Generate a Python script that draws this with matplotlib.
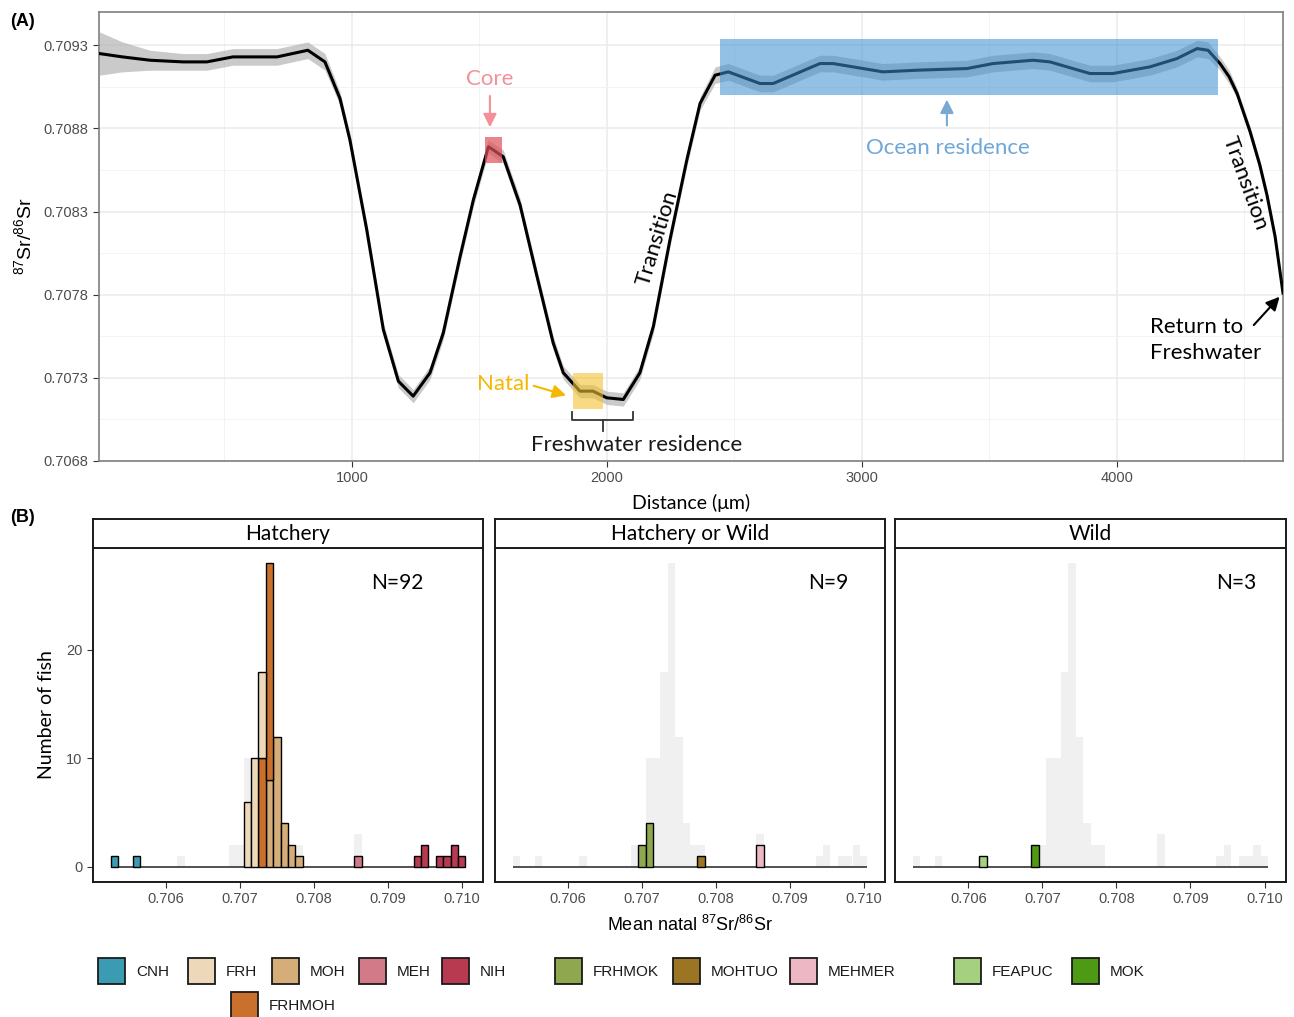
import numpy as np
import matplotlib.pyplot as plt
from matplotlib.patches import Rectangle

plt.rcParams['font.family'] = ['Liberation Sans', 'DejaVu Sans']
plt.rcParams['mathtext.fontset'] = 'custom'
plt.rcParams['mathtext.rm'] = 'Liberation Sans'
plt.rcParams['mathtext.it'] = 'Liberation Sans:italic'

# ---- panel A: otolith transect ----
dist = [10, 100, 208, 337, 431, 533, 706, 827, 894, 953, 992, 1058, 1123, 1182,
        1240, 1306, 1358, 1424, 1476, 1535, 1593, 1659, 1724, 1789, 1829, 1894,
        1945, 1999, 2064, 2129, 2182, 2247, 2313, 2365, 2424, 2476, 2600, 2652,
        2835, 2887, 3082, 3216, 3412, 3514, 3671, 3737, 3894, 3984, 4129, 4235,
        4314, 4357, 4404, 4440, 4471, 4522, 4560, 4588, 4620, 4651]
sr = [0.70925, 0.70923, 0.70921, 0.70920, 0.70920, 0.70923, 0.70923, 0.70927,
      0.70920, 0.70898, 0.70873, 0.70819, 0.70759, 0.70728, 0.70719, 0.70733,
      0.70757, 0.70803, 0.70837, 0.70869, 0.70863, 0.70834, 0.70792, 0.70751,
      0.70733, 0.70722, 0.70722, 0.70718, 0.70717, 0.70733, 0.70761, 0.70813,
      0.70861, 0.70895, 0.70912, 0.70914, 0.70907, 0.70907, 0.70919, 0.70919,
      0.70914, 0.70915, 0.70916, 0.70919, 0.70921, 0.70920, 0.70913, 0.70913,
      0.70917, 0.70922, 0.70928, 0.70927, 0.70919, 0.70911, 0.70901, 0.70878,
      0.70858, 0.70840, 0.70815, 0.70781]
se = [0.00013, 0.00009, 0.00006, 0.00005, 0.00005, 0.00005, 0.00005, 0.00005,
      0.00005, 0.00004, 0.00004, 0.00004, 0.00004, 0.00004, 0.00004, 0.00004,
      0.00004, 0.00004, 0.00004, 0.00004, 0.00004, 0.00004, 0.00004, 0.00004,
      0.00004, 0.00004, 0.00004, 0.00004, 0.00004, 0.00004, 0.00004, 0.00004,
      0.00004, 0.00004, 0.00005, 0.00005, 0.00005, 0.00005, 0.00005, 0.00005,
      0.00005, 0.00005, 0.00005, 0.00005, 0.00005, 0.00005, 0.00005, 0.00005,
      0.00005, 0.00005, 0.00005, 0.00005, 0.00004, 0.00004, 0.00003, 0.00003,
      0.00003, 0.00003, 0.00002, 0.00002]

core_zone = (1522, 1588, 0.70859, 0.70875)
natal_zone = (1867, 1984, 0.70711, 0.70733)
ocean_zone = (2443, 4396, 0.70900, 0.70934)
fw_zone = (1863, 2102)

# ---- panel B: natal histograms (bin centre, count) ----
cnh_x, cnh_n = [0.7053, 0.7056], [1, 1]
frh_x, frh_n = [0.7071, 0.7072, 0.7073], [6, 10, 8]
moh_x, moh_n = [0.7074, 0.7075, 0.7076, 0.7077, 0.7078], [8, 12, 4, 2, 1]
meh_x, meh_n = [0.7086], [1]
nih_x, nih_n = [0.7094, 0.7095, 0.7097, 0.7098, 0.7099, 0.7100], [1, 2, 1, 1, 2, 1]
frhmoh_x, frhmoh_n = [0.7073, 0.7074], [10, 20]
frhmok_x, frhmok_n = [0.7070, 0.7071], [2, 4]
mohtuo_x, mohtuo_n = [0.7078], [1]
mehmer_x, mehmer_n = [0.7086], [2]
feapuc_x, feapuc_n = [0.7062], [1]
mok_x, mok_n = [0.7069], [2]

bin_w = 0.0001
bin_lo, bin_hi = 0.7053, 0.7100

colors = {'CNH': '#3A9BB3', 'FRH': '#EDD9BA', 'MOH': '#D4AD78', 'MEH': '#D27A88',
          'NIH': '#B73A51', 'FRHMOH': '#C9712C', 'FRHMOK': '#8FA84F',
          'MOHTUO': '#9B7424', 'MEHMER': '#EDB8C4', 'FEAPUC': '#A5D080',
          'MOK': '#4F9A15'}

panels = [
    ('Hatchery', 'N=92', [('CNH', cnh_x, cnh_n), ('MOH', moh_x, moh_n),
                          ('FRHMOH', frhmoh_x, frhmoh_n), ('FRH', frh_x, frh_n),
                          ('MEH', meh_x, meh_n), ('NIH', nih_x, nih_n)]),
    ('Hatchery or Wild', 'N=9', [('FRHMOK', frhmok_x, frhmok_n),
                                 ('MOHTUO', mohtuo_x, mohtuo_n),
                                 ('MEHMER', mehmer_x, mehmer_n)]),
    ('Wild', 'N=3', [('FEAPUC', feapuc_x, feapuc_n), ('MOK', mok_x, mok_n)]),
]
n_pos = [0.78, 0.855, 0.872]

W, H = 1294, 1017


def fr(l, t, r, b):
    return [l / W, 1 - b / H, (r - l) / W, (b - t) / H]


ann_font = ['Lato', 'DejaVu Sans']
fig = plt.figure(figsize=(W / 100, H / 100), dpi=100)

# ================= panel A =================
ax = fig.add_axes(fr(99, 12, 1283, 461))
d = np.array(dist)
s = np.array(sr)
e = np.array(se)
ax.fill_between(d, s - e, s + e, color='#B4B4B4', alpha=0.7, lw=0, zorder=2)
ax.plot(d, s, color='black', lw=2.2, zorder=3)
ax.set_xlim(8, 4651)
ax.set_ylim(0.7068, 0.70950)
ax.set_xticks([1000, 2000, 3000, 4000])
ax.set_xticks([500, 1500, 2500, 3500, 4500], minor=True)
yt = np.arange(0.7068, 0.70935, 0.0005)
ax.set_yticks(yt)
ax.set_yticklabels(['%.4f' % v for v in yt])
ax.set_yticks(yt[:-1] + 0.00025, minor=True)
ax.grid(True, which='major', color='#EBEBEB', lw=1.1, zorder=0)
ax.grid(True, which='minor', color='#F3F3F3', lw=0.7, zorder=0)
ax.set_axisbelow(True)
ax.tick_params(which='major', length=4, color='#333333', labelcolor='#4D4D4D', labelsize=10.5)
ax.tick_params(which='minor', length=0)
for sp in ax.spines.values():
    sp.set_color('#7F7F7F')
    sp.set_linewidth(1.2)
ax.set_ylabel(r'$^{87}$Sr/$^{86}$Sr', fontsize=14, labelpad=6)
ax.set_xlabel('Distance (μm)', fontsize=14, family=ann_font, labelpad=6)

x0, x1, y0, y1 = core_zone
ax.add_patch(Rectangle((x0, y0), x1 - x0, y1 - y0, color='#E0505A', alpha=0.7, lw=0, zorder=4))
x0, x1, y0, y1 = natal_zone
ax.add_patch(Rectangle((x0, y0), x1 - x0, y1 - y0, color='#F2C230', alpha=0.6, lw=0, zorder=4))
x0, x1, y0, y1 = ocean_zone
ax.add_patch(Rectangle((x0, y0), x1 - x0, y1 - y0, color='#3B8FD0', alpha=0.55, lw=0, zorder=4))

ax.text(1541, 0.709096, 'Core', color='#F4909A', fontsize=16, family=ann_font,
        ha='center', va='center', zorder=5)
ax.annotate('', xy=(1541, 0.708790), xytext=(1541, 0.709012),
            arrowprops=dict(arrowstyle='-|>', color='#F4909A', lw=1.5, mutation_scale=20), zorder=5)
ax.text(1592, 0.707263, 'Natal', color='#F5B800', fontsize=16, family=ann_font,
        ha='center', va='center', zorder=5)
ax.annotate('', xy=(1850, 0.707190), xytext=(1702, 0.707257),
            arrowprops=dict(arrowstyle='-|>', color='#F5B800', lw=1.5, mutation_scale=20), zorder=5)
fa, fb = fw_zone
fm = (fa + fb) / 2
ax.plot([fa, fa, fb, fb], [0.707094, 0.707046, 0.707046, 0.707094], color='#333333', lw=1.3, zorder=5)
ax.plot([fm, fm], [0.707046, 0.706980], color='#333333', lw=1.3, zorder=5)
ax.text(2118, 0.706896, 'Freshwater residence', color='#1A1A1A', fontsize=16,
        family=ann_font, ha='center', va='center', zorder=5)
ax.annotate('', xy=(3333, 0.708990), xytext=(3333, 0.708801),
            arrowprops=dict(arrowstyle='-|>', color='#7BA8D2', lw=1.5, mutation_scale=20), zorder=5)
ax.text(3337, 0.708681, 'Ocean residence', color='#6FA7D7', fontsize=16,
        family=ann_font, ha='center', va='center', zorder=5)
ax.text(2196, 0.708140, 'Transition', color='black', fontsize=16, family=ann_font,
        rotation=73, ha='center', va='center', zorder=5)
ax.text(4502, 0.708471, 'Transition', color='black', fontsize=16, family=ann_font,
        rotation=-70, ha='center', va='center', zorder=5)
ax.text(4129, 0.707527, 'Return to\nFreshwater', color='black', fontsize=16,
        family=ann_font, ha='left', va='center', linespacing=1.4, zorder=5)
ax.annotate('', xy=(4645, 0.707800), xytext=(4529, 0.707605),
            arrowprops=dict(arrowstyle='-|>', color='black', lw=1.5, mutation_scale=20),
            annotation_clip=False, zorder=5)

# ================= panel B =================
centres = np.round(np.arange(bin_lo, bin_hi + bin_w / 2, bin_w), 4)
total = {c: 0 for c in centres}
for _, _, groups in panels:
    for _, xs, ns in groups:
        for xv, nv in zip(xs, ns):
            total[round(xv, 4)] += nv

lefts = [(93, 483), (495, 885), (895, 1286)]
for i, ((title, nlab, groups), (pl, pr)) in enumerate(zip(panels, lefts)):
    bx = fig.add_axes(fr(pl, 548, pr, 882))
    bx.bar(list(total.keys()), list(total.values()), width=bin_w, color='#F0F0F0', lw=0, zorder=1)
    bx.hlines(0, bin_lo - bin_w / 2, bin_hi + bin_w / 2, color='#333333', lw=1.2, zorder=2)
    stack = {}
    for name, xs, ns in groups:
        bots = [stack.get(round(xv, 4), 0) for xv in xs]
        bx.bar(xs, ns, width=bin_w, bottom=bots, color=colors[name],
               edgecolor='black', lw=1.0, zorder=3)
        for xv, nv, bv in zip(xs, ns, bots):
            stack[round(xv, 4)] = bv + nv
    bx.set_xlim(0.70501, 0.71029)
    bx.set_ylim(-1.4, 29.4)
    bx.set_xticks([0.706, 0.707, 0.708, 0.709, 0.710])
    bx.set_xticklabels(['0.706', '0.707', '0.708', '0.709', '0.710'])
    bx.tick_params(axis='x', length=4, color='#333333', labelcolor='#4D4D4D', labelsize=10.5)
    if i == 0:
        bx.set_yticks([0, 10, 20])
        bx.tick_params(axis='y', length=4, color='#333333', labelcolor='#4D4D4D', labelsize=10.5)
        bx.set_ylabel('Number of fish', fontsize=14, family=ann_font, labelpad=8)
    else:
        bx.set_yticks([])
    if i == 1:
        bx.set_xlabel(r'Mean natal $^{87}$Sr/$^{86}$Sr', fontsize=13, labelpad=6)
    for sp in bx.spines.values():
        sp.set_color('#1A1A1A')
        sp.set_linewidth(1.4)
    bx.text(n_pos[i], 0.895, nlab, transform=bx.transAxes, fontsize=15,
            family=ann_font, ha='center', va='center')
    st = fig.add_axes(fr(pl, 519, pr, 548))
    st.set_xticks([])
    st.set_yticks([])
    for sp in st.spines.values():
        sp.set_color('#1A1A1A')
        sp.set_linewidth(1.4)
    st.text(0.5, 0.5, title, transform=st.transAxes, fontsize=15, family=ann_font,
            ha='center', va='center')

# ================= overlay: labels & legend =================
ov = fig.add_axes([0, 0, 1, 1])
ov.set_xlim(0, W)
ov.set_ylim(H, 0)
ov.axis('off')
ov.text(10, 21, '(A)', fontsize=13, fontweight='bold', va='center', ha='left')
ov.text(10, 518, '(B)', fontsize=13, fontweight='bold', va='center', ha='left')

leg_names = ['CNH', 'FRH', 'MOH', 'MEH', 'NIH', 'FRHMOH', 'FRHMOK', 'MOHTUO',
             'MEHMER', 'FEAPUC', 'MOK']
leg_left = [98, 188, 272, 359, 442, 231, 555, 673, 790, 954, 1072]
leg_row = [971, 971, 971, 971, 971, 1005, 971, 971, 971, 971, 971]
for name, lx, ly in zip(leg_names, leg_left, leg_row):
    ov.add_patch(Rectangle((lx, ly - 13), 27, 26, facecolor=colors[name],
                           edgecolor='#1A1A1A', lw=1.3))
    ov.text(lx + 38, ly + 1, name, fontsize=11, color='#1A1A1A', ha='left', va='center')

fig.savefig('out.png', dpi=100)
